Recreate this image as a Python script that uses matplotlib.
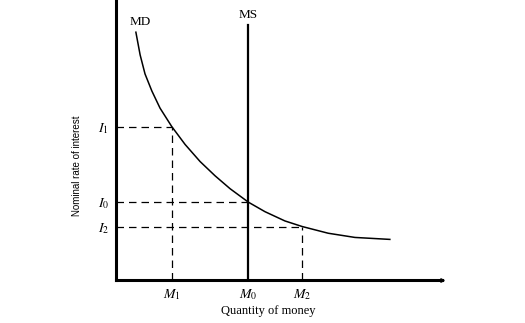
import matplotlib
matplotlib.use("Agg")
import matplotlib.pyplot as plt

plt.rcParams['font.family'] = ['Liberation Serif', 'DejaVu Serif']
plt.rcParams['mathtext.fontset'] = 'stix'

# money demand curve (quantity, rate)
md_q = [0.61, 0.74, 0.89, 1.10, 1.35, 1.71, 2.12, 2.58, 3.04, 3.50, 4.06, 4.57, 5.18, 5.71, 6.51, 7.33, 8.40]
md_r = [8.85, 8.04, 7.36, 6.75, 6.14, 5.48, 4.84, 4.23, 3.72, 3.26, 2.78, 2.44, 2.11, 1.91, 1.67, 1.52, 1.45]

# equilibrium / shifted points
m_vals = [1.71, 4.06, 5.71]
m_labels = [r'$M_1$', r'$M_0$', r'$M_2$']
i_vals = [5.48, 2.78, 1.91]
i_labels = [r'$I_1$', r'$I_0$', r'$I_2$']
ms_top = 9.1

fig = plt.figure(figsize=(5.25, 3.23), dpi=100)
ax = fig.add_axes([116/525, 43/323, 326/525, 280/323])
ax.set_xlim(0, 10)
ax.set_ylim(0, 10)

for s in ['top', 'right']:
    ax.spines[s].set_visible(False)
ax.spines['left'].set_linewidth(2.2)
ax.spines['bottom'].set_linewidth(2.2)
ax.plot([10], [0], marker='>', color='black', markersize=2.5, clip_on=False)

# demand curve and vertical supply
ax.plot(md_q, md_r, color='black', linewidth=1.1, solid_joinstyle='round')
ax.plot([m_vals[1], m_vals[1]], [0, ms_top], color='black', linewidth=1.6)

# dashed guide lines
dash = dict(color='black', linewidth=0.9, linestyle=(0, (6, 4)))
for m, i in zip(m_vals, i_vals):
    ax.plot([0, m], [i, i], **dash)
    if m != m_vals[1]:
        ax.plot([m, m], [0, i], **dash)

ax.set_xticks(m_vals, m_labels, fontsize=10)
ax.set_yticks(i_vals, i_labels, fontsize=10)
ax.tick_params(axis='x', length=0, pad=5)
ax.tick_params(axis='y', length=0, pad=5)

ax.text(0.74, 9.2, 'MD', fontsize=9.5, ha='center', va='center')
ax.text(m_vals[1], 9.46, 'MS', fontsize=9.5, ha='center', va='center')

fig.text(268/525, 1 - 311/323, 'Quantity of money', fontsize=9, ha='center', va='center')
fig.text(77/525, 1 - 166/323, 'Nominal rate of interest', fontsize=7, ha='center', va='center',
         rotation=90, family='Liberation Sans')

fig.savefig('out.png', dpi=100)
